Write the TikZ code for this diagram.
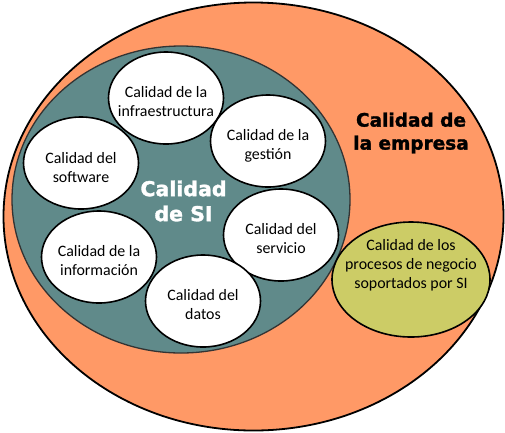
\documentclass[tikz,border=0pt]{standalone}
\usepackage{fontspec}
\setmainfont{Carlito}
\newfontfamily\titlefont{DejaVu Sans}[BoldFeatures={FakeBold=1.5}]
\usetikzlibrary{shapes.geometric}
\definecolor{orangefill}{HTML}{FF9966}
\definecolor{tealfill}{HTML}{608A8A}
\definecolor{olivefill}{HTML}{CCCC66}
\tikzset{
  bubble/.style={ellipse, draw=black, line width=1.6pt, fill=white, minimum width=115pt, minimum height=92pt, inner sep=0pt},
  btext/.style={align=center, font=\fontsize{15.9}{19}\selectfont, inner sep=0pt},
}
\begin{document}
\begin{tikzpicture}[x=1pt,y=-1pt]
\useasboundingbox (0,0) rectangle (505,432);
\node[ellipse, draw=black, line width=1.8pt, fill=orangefill, minimum width=500pt, minimum height=428pt, inner sep=0pt] (empresa) at (253.5,216.5) {};
\node[ellipse, draw=black!80, line width=1.3pt, fill=tealfill, minimum width=338pt, minimum height=307pt, inner sep=0pt] (si) at (181,199.5) {};
\node[ellipse, draw=black, line width=1.6pt, fill=olivefill, minimum width=158pt, minimum height=115pt, inner sep=0pt] (procesos) at (411,279.5) {};
\node[btext] (tprocesos) at (411,265.5) {Calidad de los\\procesos de negocio\\soportados por SI};
\node[align=center, font=\titlefont\bfseries\fontsize{18.5}{23}\selectfont, inner sep=0pt] (tempresa) at (411,133) {Calidad de\\la empresa};
\node[align=center, font=\titlefont\bfseries\fontsize{20.5}{25}\selectfont, text=white, inner sep=0pt] (tsi) at (183.5,201) {Calidad\\de SI};
\node[bubble] (infra) at (166,98) {};
\node[btext] at (166,101.5) {Calidad de la\\infraestructura};
\node[bubble] (gestion) at (268,141) {};
\node[btext] at (268,145.5) {Calidad de la\\gestión};
\node[bubble] (software) at (81,163) {};
\node[btext] at (81,167.5) {Calidad del\\software};
\node[bubble] (servicio) at (281,235) {};
\node[btext] at (281,239) {Calidad del\\servicio};
\node[bubble] (informacion) at (99,257) {};
\node[btext] at (99,261) {Calidad de la\\información};
\node[bubble] (datos) at (203,301) {};
\node[btext] at (203,305) {Calidad del\\datos};
\end{tikzpicture}
\end{document}
